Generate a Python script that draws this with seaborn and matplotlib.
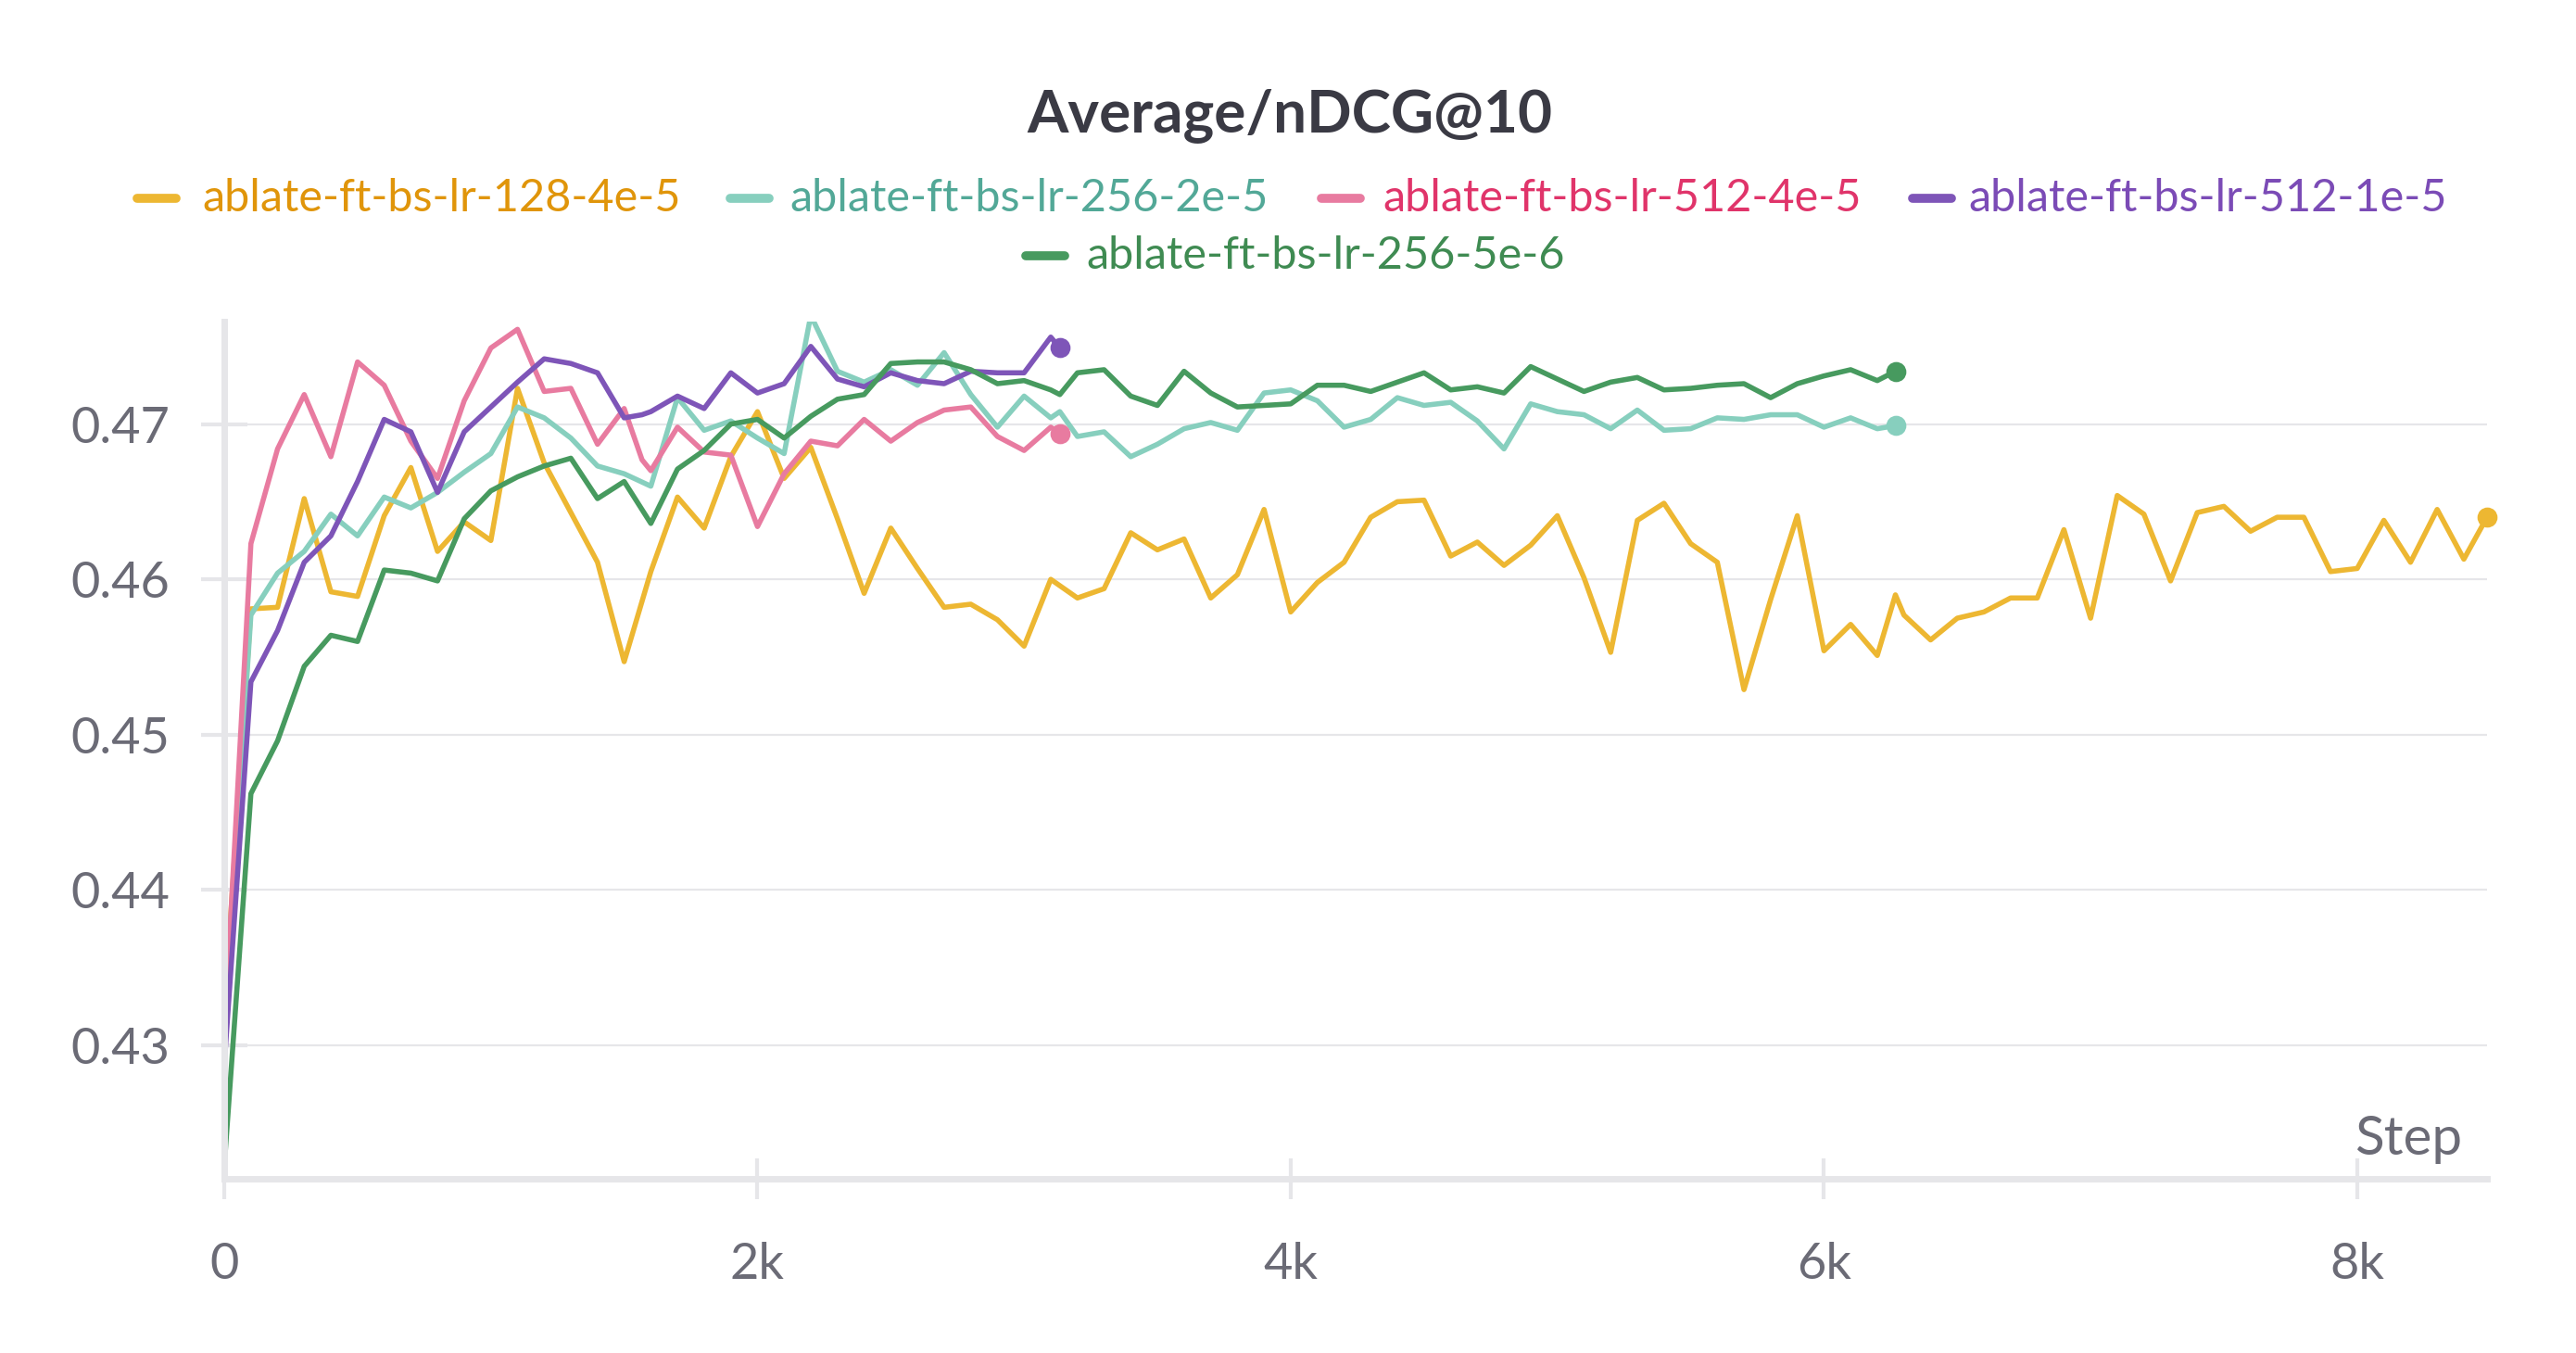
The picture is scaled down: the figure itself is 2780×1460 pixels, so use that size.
import numpy as np
import pandas as pd
import matplotlib
matplotlib.use("Agg")
import matplotlib.pyplot as plt
from matplotlib.lines import Line2D
import seaborn as sns

# ---------------- data ----------------
title = "Average/nDCG@10"
run_names = ["ablate-ft-bs-lr-128-4e-5", "ablate-ft-bs-lr-256-2e-5",
             "ablate-ft-bs-lr-512-4e-5", "ablate-ft-bs-lr-512-1e-5",
             "ablate-ft-bs-lr-256-5e-6"]

steps_512 = list(range(0, 1600, 100)) + [1567] + list(range(1600, 3200, 100)) + [3134]
steps_512 = sorted(steps_512)
steps_256 = list(range(0, 3200, 100)) + [3134] + list(range(3200, 6300, 100)) + [6268]
steps_256 = sorted(steps_256)
steps_128 = list(range(0, 6300, 100)) + [6268] + list(range(6300, 8500, 100)) + [8487]
steps_128 = sorted(steps_128)

vals_128_4e5 = [0.4320, 0.4581, 0.4582, 0.4652, 0.4592, 0.4589, 0.4641, 0.4672, 0.4618, 0.4637,
                0.4625, 0.4723, 0.4675, 0.4643, 0.4611, 0.4547, 0.4605, 0.4653, 0.4633, 0.4679,
                0.4708, 0.4665, 0.4685, 0.4639, 0.4591, 0.4633, 0.4607, 0.4582, 0.4584, 0.4574,
                0.4557, 0.4600, 0.4588, 0.4594, 0.4630, 0.4619, 0.4626, 0.4588, 0.4603, 0.4645,
                0.4579, 0.4598, 0.4611, 0.4640, 0.4650, 0.4651, 0.4615, 0.4624, 0.4609, 0.4622,
                0.4641, 0.4601, 0.4553, 0.4638, 0.4649, 0.4623, 0.4611, 0.4529, 0.4587, 0.4641,
                0.4554, 0.4571, 0.4551, 0.4590, 0.4577, 0.4561, 0.4575, 0.4579, 0.4588, 0.4588,
                0.4632, 0.4575, 0.4654, 0.4642, 0.4599, 0.4643, 0.4647, 0.4631, 0.4640, 0.4640,
                0.4605, 0.4607, 0.4638, 0.4611, 0.4645, 0.4613, 0.4640]

vals_256_2e5 = [0.4315, 0.4577, 0.4604, 0.4618, 0.4642, 0.4628, 0.4653, 0.4646, 0.4656, 0.4669,
                0.4681, 0.4711, 0.4704, 0.4691, 0.4673, 0.4668, 0.4660, 0.4717, 0.4696, 0.4702,
                0.4691, 0.4681, 0.4770, 0.4734, 0.4727, 0.4735, 0.4725, 0.4746, 0.4719, 0.4698,
                0.4718, 0.4704, 0.4708, 0.4692, 0.4695, 0.4679, 0.4687, 0.4697, 0.4701, 0.4696,
                0.4720, 0.4722, 0.4715, 0.4698, 0.4703, 0.4717, 0.4712, 0.4714, 0.4702, 0.4684,
                0.4713, 0.4708, 0.4706, 0.4697, 0.4709, 0.4696, 0.4697, 0.4704, 0.4703, 0.4706,
                0.4706, 0.4698, 0.4704, 0.4697, 0.4699]

vals_512_4e5 = [0.4305, 0.4623, 0.4684, 0.4719, 0.4679, 0.4740, 0.4725, 0.4689, 0.4665, 0.4715,
                0.4749, 0.4761, 0.4721, 0.4723, 0.4687, 0.4710, 0.4677, 0.4670, 0.4698, 0.4682,
                0.4680, 0.4634, 0.4668, 0.4689, 0.4686, 0.4703, 0.4689, 0.4701, 0.4709, 0.4711,
                0.4692, 0.4683, 0.4698, 0.4694]

vals_512_1e5 = [0.4287, 0.4534, 0.4567, 0.4611, 0.4628, 0.4663, 0.4703, 0.4695, 0.4656, 0.4695,
                0.4711, 0.4727, 0.4742, 0.4739, 0.4733, 0.4704, 0.4706, 0.4708, 0.4718, 0.4710,
                0.4733, 0.4720, 0.4726, 0.4750, 0.4729, 0.4724, 0.4733, 0.4728, 0.4726, 0.4734,
                0.4733, 0.4733, 0.4756, 0.4749]

vals_256_5e6 = [0.4222, 0.4462, 0.4496, 0.4544, 0.4564, 0.4560, 0.4606, 0.4604, 0.4599, 0.4639,
                0.4657, 0.4666, 0.4673, 0.4678, 0.4652, 0.4663, 0.4636, 0.4671, 0.4683, 0.4700,
                0.4703, 0.4691, 0.4705, 0.4716, 0.4719, 0.4739, 0.4740, 0.4740, 0.4735, 0.4726,
                0.4728, 0.4722, 0.4719, 0.4733, 0.4735, 0.4718, 0.4712, 0.4734, 0.4720, 0.4711,
                0.4712, 0.4713, 0.4725, 0.4725, 0.4721, 0.4727, 0.4733, 0.4722, 0.4724, 0.4720,
                0.4737, 0.4729, 0.4721, 0.4727, 0.4730, 0.4722, 0.4723, 0.4725, 0.4726, 0.4717,
                0.4726, 0.4731, 0.4735, 0.4728, 0.4734]

series_steps = [steps_128, steps_256, steps_512, steps_512, steps_256]
series_vals = [vals_128_4e5, vals_256_2e5, vals_512_4e5, vals_512_1e5, vals_256_5e6]

line_colors = ["#EDB732", "#87CFBE", "#E87BA0", "#7E55B8", "#479A5F"]
text_colors = ["#E0950A", "#52A897", "#E0346A", "#7B4BB6", "#3F8B52"]

y_ticks = [0.43, 0.44, 0.45, 0.46, 0.47]
y_tick_labels = ["0.43", "0.44", "0.45", "0.46", "0.47"]
x_ticks = [0, 2000, 4000, 6000, 8000]
x_tick_labels = ["0", "2k", "4k", "6k", "8k"]
x_label = "Step"

# ---------------- style ----------------
sns.set_theme(style="white")
plt.rcParams["font.family"] = ["Lato", "DejaVu Sans"]

W, H, DPI = 2780, 1460, 200
fig = plt.figure(figsize=(W / DPI, H / DPI), dpi=DPI)
fig.patch.set_facecolor("white")

def fx(px):
    return px / W

def fy(py):
    return 1 - py / H

ax_left, ax_right, ax_top, ax_bottom = 242, 2684, 347, 1272
ax = fig.add_axes([fx(ax_left), fy(ax_bottom), fx(ax_right - ax_left), (ax_bottom - ax_top) / H])
ax.set_facecolor("white")

for st, vals, col in zip(series_steps, series_vals, line_colors):
    df = pd.DataFrame({"step": st, "value": vals})
    sns.lineplot(data=df, x="step", y="value", ax=ax, color=col, linewidth=2.0,
                 legend=False, sort=True, estimator=None)
    ax.plot(df["step"].iloc[-1], df["value"].iloc[-1], "o", color=col, markersize=6.8,
            clip_on=False, zorder=5)

ax.set_xlim(0, 8487)
ax.set_ylim(0.4214, 0.4766)

ax.set_yticks(y_ticks)
ax.set_yticklabels(y_tick_labels)
ax.set_xticks(x_ticks)
ax.set_xticklabels(x_tick_labels)
ax.set_xlabel("")
ax.set_ylabel("")

grid_col = "#E6E6E9"
ax.yaxis.grid(True, color=grid_col, linewidth=0.8)
ax.xaxis.grid(False)
ax.set_axisbelow(True)

for s in ["top", "right"]:
    ax.spines[s].set_visible(False)
for s in ["left", "bottom"]:
    ax.spines[s].set_color(grid_col)
    ax.spines[s].set_linewidth(2.5)

tick_col = "#6B6B76"
ax.tick_params(axis="y", direction="inout", length=18, width=1.5, color=grid_col,
               labelcolor=tick_col, labelsize=19.5, pad=12, left=True)
ax.tick_params(axis="x", direction="inout", length=16, width=1.5, color=grid_col,
               labelcolor=tick_col, labelsize=19.5, pad=16.5, bottom=True)

fig.text(fx(2657), fy(1230), x_label, ha="right", va="center", fontsize=21, color=tick_col)

# title
fig.text(fx(1392), fy(125), title, ha="center", va="center", fontsize=23,
         fontweight="bold", color="#3A3A44")

# legend (manual, centered rows)
handle_x = [148, 788, 1426, 2064, 1107]
text_x = [218, 852, 1492, 2124, 1172]
row_y = [214, 214, 214, 214, 276]
for name, lc, tc, hx, tx, ry in zip(run_names, line_colors, text_colors, handle_x, text_x, row_y):
    fig.add_artist(Line2D([fx(hx), fx(hx + 42)], [fy(ry), fy(ry)], color=lc,
                          linewidth=3.5, solid_capstyle="round", transform=fig.transFigure))
    fig.text(fx(tx), fy(ry), name, ha="left", va="center", fontsize=17.5, color=tc)

fig.savefig("out.png", dpi=DPI, facecolor="white")
